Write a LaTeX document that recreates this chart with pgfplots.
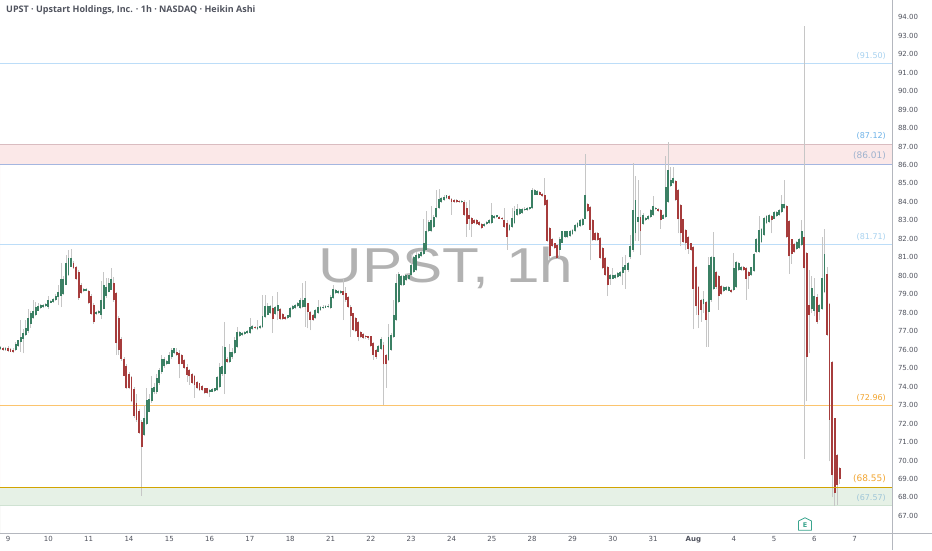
\documentclass[border=0pt]{standalone}
\usepackage{graphicx}
\usepackage{pgfplots}
\usepackage{pgfplotstable}
\usepackage{fontspec}
\pgfplotsset{compat=1.18}
\setmainfont{DejaVu Sans}
\newfontfamily\titlefont{Open Sans}
\newfontfamily\markfont{Liberation Sans}

\definecolor{upc}{HTML}{3B8064}
\definecolor{downc}{HTML}{A63C3C}
\definecolor{wick}{HTML}{C6C6C6}
\definecolor{framec}{HTML}{B4B7BE}
\definecolor{ticktxt}{HTML}{50535E}
\definecolor{zonered}{HTML}{FBE8E8}
\definecolor{zonegreen}{HTML}{E6F1E6}
\definecolor{lvlblue}{HTML}{BCDDF8}
\definecolor{lvlrose}{HTML}{D9BCC0}
\definecolor{lvlslate}{HTML}{A4B6E0}
\definecolor{lvlorange}{HTML}{FBC46E}
\definecolor{lvlgreen}{HTML}{CFE2D2}
\definecolor{lvlgold}{HTML}{D2A400}
\definecolor{lblpale}{HTML}{A8D2F0}
\definecolor{lblblue}{HTML}{6DB2E8}
\definecolor{lblslate}{HTML}{9DB2CE}
\definecolor{lblorange}{HTML}{F2A530}
\definecolor{lblteal}{HTML}{9FC6D8}
\definecolor{badge}{HTML}{3AA58E}

% bars: i = bar number (16 per session), bot/top = body, wl/wh = wick ends
\pgfplotstableread{
i bot top wl wh
-3 76.05 76.15 76.0 76.2
-1 76.0 76.1 75.95 76.15
3 76.0 76.3 75.95 76.4
4 76.2 76.5 76.15 76.55
5 76.4 76.7 75.9 77.6
6 76.6 76.9 75.8 77.1
7 76.8 77.2 76.75 77.6
8 77.0 77.7 76.9 78.2
9 77.4 78.0 77.2 78.1
10 77.7 78.1 77.65 78.7
11 77.9 78.3 77.8 78.6
12 78.1 78.35 78.1 78.5
13 78.25 78.4 78.2 78.45
14 78.3 78.4 78.25 78.45
15 78.35 78.45 78.3 78.5
16 78.3 78.7 78.2 78.9
17 78.55 78.65 78.5 78.7
18 78.6 78.75 78.55 78.8
19 78.7 78.9 78.65 79.0
20 78.85 79.1 78.4 79.5
21 78.9 79.8 78.3 80.7
22 79.0 79.8 78.95 80.0
23 79.5 80.7 79.5 81.1
24 80.05 80.95 80.0 81.4
25 80.5 80.95 80.5 81.45
30 79.15 79.3 79.1 79.35
31 79.2 79.3 79.15 79.35
35 77.95 78.05 77.85 78.1
36 78.0 78.1 77.95 78.15
37 77.9 78.7 77.65 79.7
38 78.2 79.5 78.2 80.2
39 78.9 79.4 78.8 79.9
40 79.1 79.6 79.1 79.9
41 79.25 79.85 79.25 80.4
54 71.4 72.3 71.3 73.0
55 72.0 73.3 71.9 73.9
56 72.65 73.35 72.6 73.6
57 73.2 73.9 73.1 74.6
58 73.7 74.0 73.6 74.2
59 73.7 74.45 73.6 74.7
60 74.2 74.9 74.1 75.0
61 74.8 75.5 74.7 75.7
62 75.1 75.5 75.0 75.6
63 75.2 75.4 75.15 75.45
64 75.25 75.7 75.2 75.9
65 75.6 75.98 75.5 76.1
66 75.8 76.08 75.75 76.1
80 73.7 73.8 73.45 73.85
81 73.73 73.85 73.7 73.9
82 73.75 73.9 73.7 73.95
83 73.8 74.5 73.75 74.6
84 74.0 75.08 73.9 75.3
85 74.7 75.1 74.6 76.2
86 74.7 76.17 73.6 77.5
88 75.35 75.9 75.3 76.3
89 75.6 75.9 75.5 76.1
90 75.8 76.5 75.75 76.7
91 76.16 76.97 76.1 77.25
92 76.75 76.97 76.7 77.0
93 76.8 76.9 76.75 76.95
94 76.85 76.95 76.8 77.0
95 76.9 77.0 76.85 77.05
96 76.9 77.25 76.85 77.7
97 77.1 77.3 77.05 77.35
99 77.1 77.25 77.05 77.6
100 77.15 77.3 77.1 77.35
101 77.25 77.8 77.2 78.95
102 77.75 78.37 77.7 78.95
103 77.9 78.35 77.85 78.5
104 78.0 78.35 77.95 78.4
106 77.95 78.3 77.9 78.35
107 78.1 78.4 77.6 79.1
111 77.7 77.85 77.65 77.9
112 77.75 78.24 77.7 78.3
113 78.2 78.35 78.15 78.4
114 78.25 78.4 78.2 78.45
115 78.35 78.5 78.3 78.6
116 78.25 78.7 78.2 78.8
117 78.3 78.7 78.25 79.6
118 78.3 78.78 77.25 79.7
122 77.7 78.15 77.65 78.2
123 78.0 78.3 77.95 78.7
124 78.15 78.3 78.1 78.35
125 78.25 78.32 78.2 78.4
126 78.28 78.35 78.25 78.4
127 78.3 78.38 78.25 78.45
128 78.25 78.87 78.2 78.95
129 78.8 79.3 78.75 79.5
130 79.05 79.25 79.0 79.3
131 79.05 79.2 79.0 79.25
132 79.05 79.2 79.0 79.25
147 75.9 76.2 75.85 76.25
148 76.05 76.6 76.0 76.7
151 75.45 76.7 75.4 77.4
152 76.0 76.8 75.95 76.9
153 76.7 77.85 76.65 78.7
154 77.6 79.6 77.55 80.1
155 78.6 80.1 78.5 80.2
156 79.5 80.0 79.45 80.05
157 79.5 80.0 79.45 80.05
158 79.75 80.05 79.7 80.1
159 79.85 80.05 79.8 80.1
160 80.05 80.6 80.0 81.2
161 80.2 81.0 80.15 81.05
162 80.3 81.1 80.25 81.3
163 80.95 81.2 80.9 81.25
164 81.05 81.3 81.0 81.35
165 81.2 81.8 81.15 83.1
166 81.4 82.4 81.35 83.5
167 82.4 82.9 82.35 83.0
168 82.4 83.0 82.35 83.8
169 82.65 83.2 82.6 83.3
170 83.2 83.65 83.15 84.65
171 83.65 84.15 83.6 84.7
172 84.0 84.2 83.95 84.25
173 84.1 84.25 84.05 84.4
174 84.2 84.35 84.15 84.4
180 84.0 84.05 83.95 84.1
189 82.7 82.8 82.65 82.85
190 82.8 82.9 82.75 82.95
191 82.85 83.0 82.8 83.05
192 82.85 83.3 82.8 83.95
193 83.15 83.25 83.1 83.3
194 83.2 83.28 83.15 83.3
199 82.5 82.75 82.45 82.8
200 82.65 83.15 82.6 83.65
201 82.85 83.5 82.8 83.8
202 83.3 83.6 83.25 83.9
203 83.35 83.6 83.3 83.65
204 83.4 83.6 83.35 83.65
205 83.55 83.62 83.5 83.7
206 83.55 83.65 83.5 83.7
207 83.6 83.7 83.55 83.75
208 83.65 84.65 83.6 84.75
209 84.4 84.65 84.35 84.7
210 84.4 84.6 84.35 84.65
219 81.4 82.0 81.0 82.1
220 81.8 82.4 81.75 82.45
221 82.1 82.4 82.05 82.45
222 82.1 82.4 82.05 82.45
223 82.15 82.45 82.1 82.5
224 82.25 82.5 82.2 82.55
225 82.4 82.75 82.35 82.8
226 82.65 82.85 82.6 82.9
227 82.7 83.0 82.65 83.05
228 82.75 83.1 82.7 83.15
229 83.1 84.4 83.05 86.6
239 79.8 80.05 79.5 80.1
240 79.85 80.05 79.8 80.4
241 79.9 80.05 79.85 80.1
242 79.95 80.15 79.9 80.2
243 80.0 80.2 79.95 80.25
244 80.15 80.5 79.5 81.0
245 80.3 80.6 79.3 81.1
246 80.3 80.7 80.2 80.75
247 81.0 81.6 80.9 82.2
248 81.4 83.55 81.3 86.1
249 82.3 84.1 81.9 85.4
250 82.9 83.2 81.9 85.2
252 82.8 83.3 82.75 83.4
253 83.0 83.15 82.95 83.2
254 83.05 83.25 83.0 83.3
255 83.2 83.55 83.15 83.6
256 83.3 83.8 83.25 84.3
257 83.6 83.65 83.55 83.7
260 83.1 83.3 83.05 83.35
261 83.2 84.8 83.15 86.5
262 84.0 85.7 83.95 87.25
263 84.85 85.2 84.8 85.9
264 85.0 85.3 84.95 85.9
276 78.45 78.75 78.0 79.2
278 78.05 80.6 76.15 81.0
279 78.7 81.0 78.6 81.05
280 79.3 81.0 79.25 82.35
284 79.15 79.4 79.1 79.45
285 79.25 79.4 79.2 79.45
286 79.2 79.4 79.15 79.45
288 79.25 80.4 79.2 81.25
289 79.4 80.75 79.35 80.8
290 80.3 80.7 80.25 80.75
291 80.3 80.5 80.25 80.55
295 80.05 80.45 80.0 80.5
296 80.25 81.2 80.2 81.25
297 81.3 82.0 81.25 82.05
298 81.3 82.5 81.25 83.25
299 81.85 82.55 81.8 82.6
300 82.2 83.15 82.15 83.2
301 82.85 83.25 82.8 83.3
302 82.9 83.3 82.85 83.35
304 83.1 83.45 83.05 83.5
305 83.25 83.45 83.2 83.5
306 83.3 83.55 83.25 83.6
307 83.45 83.9 83.4 84.4
308 83.65 83.9 83.6 85.2
313 81.45 81.85 81.4 81.9
314 81.5 82.0 81.45 82.05
315 81.67 82.44 81.6 83.0
319 78.2 79.35 78.0 80.0
320 78.1 78.9 77.8 79.9
322 78.05 78.4 77.6 78.45
323 78.2 79.9 78.15 82.1
324 79.1 81.2 79.05 82.55
}\upbars

\pgfplotstableread{
i bot top wl wh
-2 76.0 76.1 75.95 76.15
0 75.95 76.1 75.85 76.2
1 75.9 76.05 75.85 76.1
2 75.85 76.0 75.8 76.1
26 80.4 80.7 80.35 80.8
27 79.8 80.5 79.75 80.55
28 78.8 80.2 78.7 80.3
29 79.05 79.5 79.0 79.6
32 78.5 79.2 78.45 79.25
33 77.95 78.9 77.9 79.0
34 77.5 78.4 77.4 78.5
42 78.7 79.6 78.6 79.95
43 76.35 79.05 75.7 79.1
44 76.0 77.7 75.7 77.8
45 75.5 76.6 75.4 76.7
46 74.6 75.5 74.55 75.6
47 73.9 75.1 73.85 75.2
48 73.9 74.7 73.85 74.8
49 73.2 74.5 73.15 74.6
50 72.4 73.85 72.3 74.0
51 72.2 73.1 72.1 73.6
52 71.5 72.7 71.45 72.8
53 70.75 72.1 68.1 72.2
67 75.7 75.9 75.65 76.1
68 75.2 75.8 74.45 76.0
69 75.25 75.7 75.2 75.75
70 75.0 75.45 74.95 75.5
71 74.65 75.08 74.25 75.2
72 74.55 74.9 74.1 74.95
73 74.2 74.7 74.15 74.75
74 74.1 74.6 73.4 74.65
75 73.9 74.27 73.85 74.3
76 73.8 74.18 73.75 74.2
77 73.8 74.05 73.75 74.1
78 73.67 73.9 73.6 73.95
79 73.65 73.9 73.6 73.95
87 75.35 75.5 75.3 75.6
98 77.15 77.25 77.1 77.3
105 77.65 78.24 76.9 78.9
108 77.65 78.18 77.6 78.25
109 77.65 77.95 77.6 78.0
110 77.65 77.75 77.6 77.8
119 78.05 78.5 77.15 78.55
120 77.6 78.05 77.05 78.1
121 77.6 77.9 77.55 77.95
133 78.95 79.15 77.6 79.85
134 78.7 79.05 78.6 79.4
135 78.3 78.85 78.25 78.9
136 77.8 78.3 76.7 78.4
137 77.07 77.97 77.0 78.0
138 77.0 77.7 76.95 77.75
139 76.7 77.5 76.45 77.55
140 76.7 76.98 76.65 77.0
141 76.65 76.85 76.6 76.9
142 76.68 76.75 76.6 76.8
143 76.62 76.72 76.55 76.75
144 76.2 76.72 76.15 76.75
145 75.7 76.35 75.45 76.4
146 75.6 76.0 75.5 76.05
149 75.2 76.25 73.0 76.4
150 75.2 75.7 73.95 75.75
175 84.15 84.3 84.1 84.35
176 84.0 84.15 83.3 84.2
177 84.0 84.1 83.95 84.15
178 84.0 84.1 83.95 84.15
179 84.0 84.05 83.95 84.1
181 83.3 84.0 83.25 84.1
182 82.8 83.65 82.1 84.0
183 83.1 83.3 82.5 84.1
184 82.8 83.15 82.1 83.2
185 82.85 83.0 82.8 83.05
186 82.8 83.0 82.75 83.05
187 82.75 82.9 82.7 82.95
188 82.6 82.8 82.55 82.85
195 83.1 83.2 83.05 83.25
196 83.05 83.15 83.0 83.2
197 82.65 83.0 82.6 83.65
198 82.1 82.85 81.4 83.0
211 84.4 84.55 84.35 84.6
212 84.3 84.45 84.25 84.5
213 83.85 84.35 83.8 85.3
214 81.9 84.1 81.85 84.15
215 81.05 82.6 80.9 82.65
216 81.6 82.0 81.55 82.05
217 81.5 81.75 81.45 81.8
218 80.95 81.65 80.9 81.7
230 83.5 83.9 83.45 83.95
231 82.5 83.75 80.85 83.8
232 81.95 83.0 81.9 83.05
233 81.95 82.3 81.9 82.35
234 81.95 82.3 81.9 82.35
235 80.95 82.03 80.9 82.1
236 80.4 81.5 80.35 81.55
237 80.05 80.95 80.0 81.0
238 79.5 80.5 78.9 80.55
251 82.4 83.2 81.1 83.55
258 83.5 83.6 83.45 83.65
259 83.0 83.55 82.55 83.6
265 84.1 85.15 84.05 85.2
266 83.05 84.65 82.3 84.7
267 82.3 83.85 81.6 83.9
268 81.85 83.05 81.8 83.1
269 81.75 82.5 81.4 82.55
270 81.45 82.1 81.2 82.15
271 81.4 81.75 81.35 81.8
272 79.3 81.55 77.1 81.6
273 78.35 80.5 77.9 80.55
274 77.9 79.4 77.15 79.45
275 78.15 78.7 77.5 78.75
277 77.6 78.6 76.15 78.65
281 79.4 80.2 79.3 80.25
282 78.9 80.0 78.15 80.05
283 79.0 79.45 78.95 79.5
287 79.1 79.25 79.05 79.3
292 80.3 80.5 80.25 80.55
293 79.85 80.4 78.7 80.45
294 80.0 80.2 79.3 80.25
303 83.0 83.25 82.3 83.3
309 82.1 83.8 82.05 83.85
310 81.05 82.95 80.1 83.0
311 81.2 81.97 80.65 82.0
312 81.3 81.7 81.25 81.75
316 80.4 82.1 70.1 93.5
317 75.6 81.25 73.2 81.3
318 77.9 78.4 75.8 80.3
321 77.5 78.87 77.4 79.0
325 76.8 80.1 76.75 80.5
326 72.2 78.47 69.95 78.5
327 69.2 75.35 68.0 75.4
328 68.26 72.28 67.55 72.3
329 68.7 70.3 67.6 70.35
330 69.0 69.57 68.75 69.65
}\downbars

\pgfplotsset{
  wicks/.style={draw=none, no marks, forget plot,
    error bars/.cd, y dir=plus, y explicit, error mark=none,
    error bar style={draw=wick, line width=0.8pt, solid}},
  bodyup/.style={draw=none, no marks, forget plot,
    error bars/.cd, y dir=plus, y explicit, error mark=none,
    error bar style={draw=upc, line width=1.9pt, solid}},
  bodydown/.style={draw=none, no marks, forget plot,
    error bars/.cd, y dir=plus, y explicit, error mark=none,
    error bar style={draw=downc, line width=1.9pt, solid}},
}

\begin{document}
\begin{tikzpicture}[x=1pt,y=1pt]
\fill[white] (0,0) rectangle (932,550);
\path[use as bounding box] (0,0) rectangle (932,550);

% watermark sits under the bars
\node[anchor=center,text=black!30,font=\markfont\fontsize{49}{49}\selectfont,inner sep=0pt]
  at (446,282) {\scalebox{1.23}[1]{UPST, 1h}};

\begin{axis}[
  at={(0pt,17pt)},anchor=south west,
  scale only axis,width=892.5pt,height=533pt,
  xmin=-3.175,xmax=351,
  ymin=66.075,ymax=94.93,
  axis line style={draw=none},
  tick style={draw=none},
  ytick={67,68,...,94},
  yticklabel pos=right,
  xtick={0,16,32,48,64,80,96,112,128,144,160,176,192,208,224,240,256,272,288,304,320,336},
  xticklabels={9,10,11,14,15,16,17,18,21,22,23,24,25,28,29,30,31,\textbf{Aug},4,5,6,7},
  ticklabel style={font=\fontsize{7}{8}\selectfont,text=ticktxt},
  yticklabel style={xshift=2pt,/pgf/number format/.cd,fixed,fixed zerofill,precision=2,assume math mode=true},
]
% zones
\addplot[draw=none,fill=zonered,forget plot] coordinates {(-3.175,86.01)(351,86.01)(351,87.12)(-3.175,87.12)} \closedcycle;
\addplot[draw=none,fill=zonegreen,forget plot] coordinates {(-3.175,67.57)(351,67.57)(351,68.55)(-3.175,68.55)} \closedcycle;
% levels
\addplot[color=lvlblue,line width=0.7pt,forget plot] coordinates {(-3.175,91.5)(351,91.5)};
\addplot[color=lvlrose,line width=0.7pt,forget plot] coordinates {(-3.175,87.12)(351,87.12)};
\addplot[color=lvlslate,line width=1.1pt,forget plot] coordinates {(-3.175,86.01)(351,86.01)};
\addplot[color=lvlblue,line width=0.7pt,forget plot] coordinates {(-3.175,81.71)(351,81.71)};
\addplot[color=lvlorange,line width=0.8pt,forget plot] coordinates {(-3.175,72.96)(351,72.96)};
\addplot[color=lvlgreen,line width=0.6pt,forget plot] coordinates {(-3.175,67.57)(351,67.57)};

% wicks
\addplot[wicks] table[x=i,y=wl,y error plus expr=\thisrow{wh}-\thisrow{wl}] {\upbars};
\addplot[wicks] table[x=i,y=wl,y error plus expr=\thisrow{wh}-\thisrow{wl}] {\downbars};
% bodies
\addplot[bodyup] table[x=i,y=bot,y error plus expr=\thisrow{top}-\thisrow{bot}] {\upbars};
\addplot[bodydown] table[x=i,y=bot,y error plus expr=\thisrow{top}-\thisrow{bot}] {\downbars};

\addplot[color=lvlgold,line width=1.5pt,forget plot] coordinates {(-3.175,68.55)(351,68.55)};
\end{axis}

% scale frame
\draw[framec,line width=0.7pt] (892.5,0) -- (892.5,550);
\draw[framec,line width=0.7pt] (0,17) -- (932,17);

% title
\node[anchor=west,inner sep=0pt,text=ticktxt,font=\titlefont\bfseries\fontsize{9}{10}\selectfont]
  at (6,540) {UPST · Upstart Holdings, Inc. · 1h · NASDAQ · Heikin Ashi};

% level captions
\tikzset{lvl/.style={anchor=east,inner sep=0pt}}
\node[lvl,text=lblpale,font=\fontsize{8}{9}\selectfont] at (886,494) {(91.50)};
\node[lvl,text=lblblue,font=\fontsize{8}{9}\selectfont] at (886,414) {(87.12)};
\node[lvl,text=lblslate,font=\fontsize{9}{10}\selectfont] at (886,394) {(86.01)};
\node[lvl,text=lblpale,font=\fontsize{8}{9}\selectfont] at (886,313) {(81.71)};
\node[lvl,text=lblorange,font=\fontsize{8}{9}\selectfont] at (886,152) {(72.96)};
\node[lvl,text=lblorange,font=\fontsize{9}{10}\selectfont] at (886,71) {(68.55)};
\node[lvl,text=lblteal,font=\fontsize{8}{9}\selectfont] at (886,52) {(67.57)};

% earnings badge
\draw[badge,line width=0.8pt,line join=round,fill=white]
  (798.5,29) -- (798.5,19.8) -- (811.5,19.8) -- (811.5,29) -- (805,32.2) -- cycle;
\node[text=badge,inner sep=0pt,font=\bfseries\fontsize{6.5}{7}\selectfont] at (805,25) {E};
\end{tikzpicture}
\end{document}
